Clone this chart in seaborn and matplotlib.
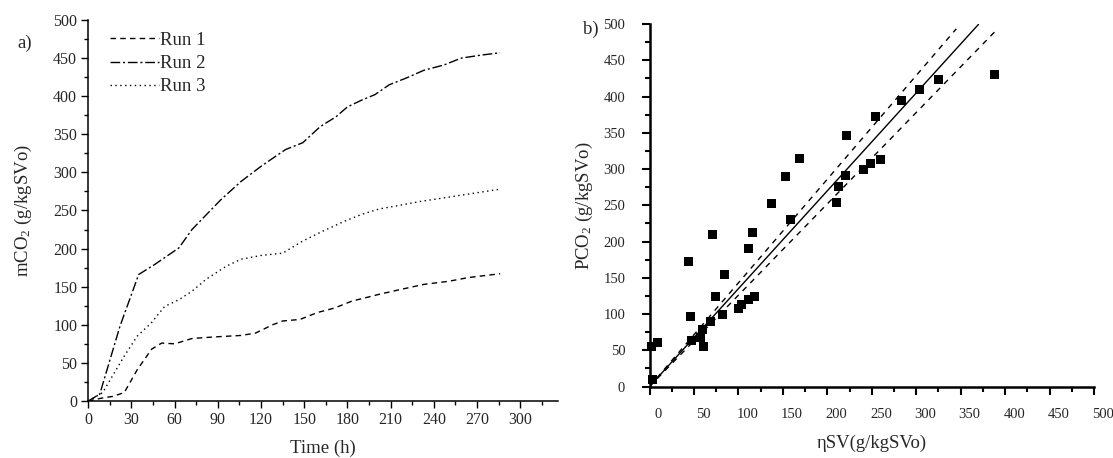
import numpy as np
import pandas as pd
import matplotlib
matplotlib.use("Agg")
import matplotlib.pyplot as plt
import matplotlib.transforms as mtransforms
from matplotlib.ticker import MultipleLocator
import seaborn as sns

# --- data ---
run1_t = [0, 10, 17, 25, 34, 44, 51, 60, 72, 87, 106, 116, 128, 135, 147, 159, 171, 183, 202, 216, 233, 250, 264, 286]
run1_m = [0, 4, 6, 11, 41, 68, 76, 75, 82, 84, 86, 89, 100, 105, 107, 116, 122, 131, 140, 146, 153, 157, 162, 167]

run2_t = [0, 8, 22, 35, 46, 63, 72, 92, 106, 120, 130, 137, 149, 161, 172, 180, 190, 199, 209, 221, 233, 247, 259, 273, 286]
run2_m = [0, 9, 98, 166, 179, 201, 225, 264, 288, 308, 321, 330, 339, 360, 373, 386, 395, 402, 415, 424, 434, 441, 450, 454, 457]

run3_t = [0, 10, 25, 34, 44, 53, 63, 72, 82, 96, 106, 120, 135, 149, 163, 178, 190, 202, 214, 231, 245, 262, 286]
run3_m = [0, 11, 59, 85, 103, 124, 133, 144, 160, 177, 186, 191, 194, 210, 223, 236, 245, 252, 256, 262, 266, 271, 278]

eta_sv = [2, 9, 3, 44, 46, 47, 57, 60, 61, 69, 71, 74, 82, 84.5, 100, 103.5, 111, 111, 116, 117.5,
          137, 153, 159, 169, 210, 213, 220, 222, 240.5, 249, 254, 259.5, 283, 304, 324.6, 387.7]
p_co2 = [55, 61, 9, 172, 96.5, 64, 68, 78, 55, 89, 209, 124, 99, 155, 107, 113.5, 190, 119.5, 213, 124,
         253, 289, 230, 315, 254, 276, 291, 346.5, 299, 307, 373, 312.5, 395, 410, 424, 431]

fit_slope = 1.35
upper_slope = 1.43
lower_slope = 1.26
fit_xmax = 370
upper_xmax = 345
lower_xmax = 388

runs = pd.concat([
    pd.DataFrame({"t": run1_t, "m": run1_m, "run": "Run 1"}),
    pd.DataFrame({"t": run2_t, "m": run2_m, "run": "Run 2"}),
    pd.DataFrame({"t": run3_t, "m": run3_m, "run": "Run 3"}),
])
scatter_df = pd.DataFrame({"x": eta_sv, "y": p_co2})

sns.set_style("ticks")
plt.rcParams["font.family"] = ["Liberation Serif", "DejaVu Serif"]
plt.rcParams["mathtext.fontset"] = "custom"
plt.rcParams["mathtext.rm"] = "Liberation Serif"
plt.rcParams["mathtext.it"] = "Liberation Serif:italic"

fig = plt.figure(figsize=(11.13, 4.58), dpi=100)
ax1 = fig.add_axes([0.0793, 0.1245, 0.4218, 0.8318])
ax2 = fig.add_axes([0.5836, 0.1561, 0.3994, 0.7915])

# --- panel a ---
styles = {"Run 1": (0, (4, 3)), "Run 2": (0, (7, 2, 1.5, 2)), "Run 3": (0, (1, 2.5))}
for name, grp in runs.groupby("run"):
    sns.lineplot(data=grp, x="t", y="m", ax=ax1, color="black", lw=1.0,
                 linestyle=styles[name], label=name, estimator=None, sort=False)

ax1.set_xlim(0, 326)
ax1.set_ylim(0, 500)
ax1.xaxis.set_major_locator(MultipleLocator(30))
ax1.xaxis.set_minor_locator(MultipleLocator(15))
ax1.yaxis.set_major_locator(MultipleLocator(50))
ax1.yaxis.set_minor_locator(MultipleLocator(25))
ax1.tick_params(which="major", length=5, width=1, labelsize=11.5, pad=3, color="black")
ax1.tick_params(which="minor", length=3, width=1, color="black")
ax1.set_xlabel("Time (h)", fontsize=13.5, labelpad=8)
ax1.set_ylabel("mCO$_\\mathrm{2}$ (g/kgSVo)", fontsize=13.5, labelpad=14)
for s in ["top", "right"]:
    ax1.spines[s].set_visible(False)
for s in ["left", "bottom"]:
    ax1.spines[s].set_linewidth(1.1)
    ax1.spines[s].set_color("black")
ax1.legend(loc="upper left", bbox_to_anchor=(0.01, 1.013), frameon=False, fontsize=13.5,
           handlelength=2.6, handletextpad=0.1, labelspacing=0.32)
fig.text(0.016, 0.895, "a)", fontsize=13.5)

# --- panel b ---
sns.scatterplot(data=scatter_df, x="x", y="y", ax=ax2, marker="s", s=42, color="black",
                edgecolor="none", clip_on=False, zorder=3)
fit_x = np.array([0, fit_xmax])
up_x = np.array([0, upper_xmax])
lo_x = np.array([0, lower_xmax])
sns.lineplot(x=fit_x, y=fit_slope * fit_x, ax=ax2, color="black", lw=1.0)
sns.lineplot(x=up_x, y=upper_slope * up_x, ax=ax2, color="black", lw=1.0, linestyle=(0, (4, 4)))
sns.lineplot(x=lo_x, y=lower_slope * lo_x, ax=ax2, color="black", lw=1.0, linestyle=(0, (4, 4)))

ax2.set_xlim(0, 500)
ax2.set_ylim(0, 500)
ax2.xaxis.set_major_locator(MultipleLocator(50))
ax2.xaxis.set_minor_locator(MultipleLocator(25))
ax2.yaxis.set_major_locator(MultipleLocator(50))
ax2.yaxis.set_minor_locator(MultipleLocator(25))
ax2.tick_params(which="major", length=5.5, width=1.5, labelsize=10.5, color="black")
ax2.tick_params(which="minor", length=3.5, width=1.5, color="black")
ax2.tick_params(axis="x", which="major", pad=10)
ax2.tick_params(axis="y", which="major", pad=12)
ax2.set_xlabel("\u03b7SV(g/kgSVo)", fontsize=13.5, labelpad=10)
ax2.set_ylabel("PCO$_\\mathrm{2}$ (g/kgSVo)", fontsize=13.5, labelpad=6)
for s in ["top", "right"]:
    ax2.spines[s].set_visible(False)
for s in ["left", "bottom"]:
    ax2.spines[s].set_linewidth(1.8)
    ax2.spines[s].set_color("black")
shift = mtransforms.ScaledTranslation(0.09, 0, fig.dpi_scale_trans)
for lab in ax2.get_xticklabels():
    lab.set_transform(lab.get_transform() + shift)
fig.text(0.524, 0.925, "b)", fontsize=13.5)

fig.savefig("out.png", dpi=100)
